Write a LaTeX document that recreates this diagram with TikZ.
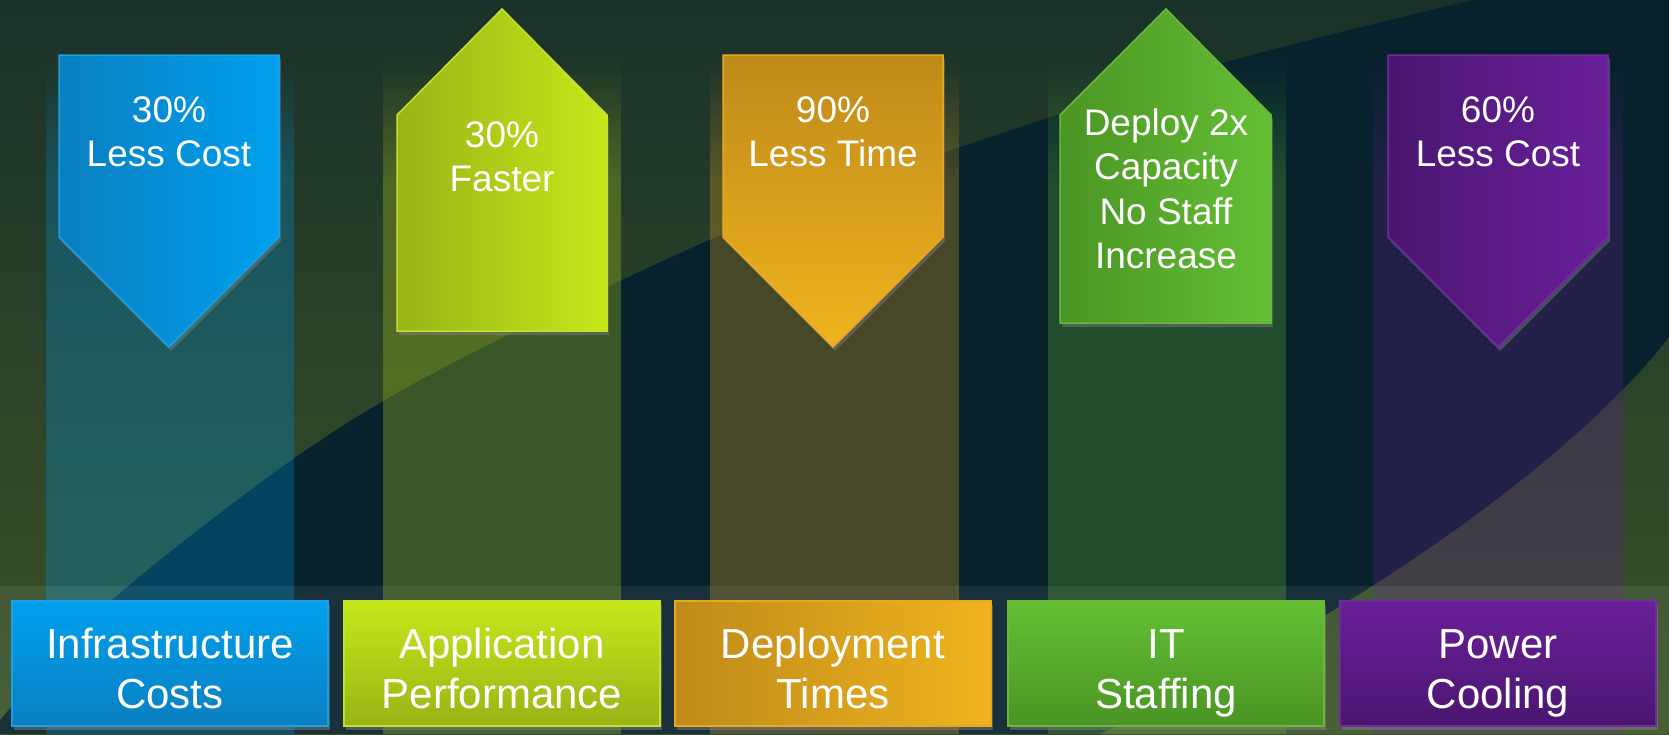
\documentclass[tikz,border=0pt]{standalone}
\usepackage{fontspec}
\setmainfont{Liberation Sans}
\usetikzlibrary{shadows,fadings}

\definecolor{bgtop}{HTML}{1A3129}
\definecolor{bgbot}{HTML}{3C5428}
\definecolor{bgteal}{HTML}{07222D}

\definecolor{cBlueL}{HTML}{0A7FC0}
\definecolor{cBlueR}{HTML}{00A0EE}
\definecolor{cBlueE}{HTML}{1AA0E4}
\definecolor{cLimeL}{HTML}{98B416}
\definecolor{cLimeR}{HTML}{C6E81A}
\definecolor{cLimeE}{HTML}{C4E02C}
\definecolor{cGoldL}{HTML}{BF8A1A}
\definecolor{cGoldR}{HTML}{F0B41E}
\definecolor{cGoldE}{HTML}{E8A820}
\definecolor{cGreenL}{HTML}{4A9424}
\definecolor{cGreenR}{HTML}{64C034}
\definecolor{cGreenE}{HTML}{6AB83A}
\definecolor{cPurpL}{HTML}{4A1670}
\definecolor{cPurpR}{HTML}{6A1F9A}
\definecolor{cPurpE}{HTML}{6E2C9C}

\definecolor{sBlue}{HTML}{0090D8}
\definecolor{sLime}{HTML}{B0D01A}
\definecolor{sGold}{HTML}{DCA01E}
\definecolor{sGreen}{HTML}{5AB02D}
\definecolor{sPurp}{HTML}{601E8C}

% zwei Zeilen, immer gleich hoch
\newcommand{\zweizeilen}[2]{\rule{0pt}{49pt}#1\\#2\vphantom{g}}

\tikzset{
	pfeil/.style={line width=1.5pt, drop shadow={opacity=.45, shadow xshift=2pt, shadow yshift=-4pt}},
	pfeiltext/.style={align=center, text=white, inner sep=0pt, font=\fontsize{37}{44.5}\selectfont},
	feld/.style={minimum width=316pt, minimum height=125pt, inner sep=0pt, line width=2pt,
		align=center, text=white, font=\fontsize{42}{50}\selectfont,
		drop shadow={opacity=.5, shadow xshift=2pt, shadow yshift=-4pt}},
	saeule/.style={opacity=.3},
}

\begin{document}
\begin{tikzpicture}[x=1pt, y=-1pt]
	\useasboundingbox (0,0) rectangle (1669,734);

	%% Hintergrund
	\shade[top color=bgtop, bottom color=bgbot] (0,0) rectangle (1669,734);
	\fill[bgteal] (0,734) -- plot[smooth] coordinates {(0,720) (112,600) (296,457) (445,367) (714,238) (946,152) (1223,63) (1473,0)}
		-- (1669,0) -- (1669,337) .. controls (1590,440) and (1390,600) .. (1100,734) -- cycle;

	%% Saeulen
	\fill[sBlue, saeule] (46,180) rectangle (294,734);
	\fill[sBlue, saeule, path fading=north] (46,60) rectangle (294,180);
	\fill[sLime, saeule] (383,180) rectangle (621,734);
	\fill[sLime, saeule, path fading=north] (383,60) rectangle (621,180);
	\fill[sGold, saeule] (710,180) rectangle (959,734);
	\fill[sGold, saeule, path fading=north] (710,60) rectangle (959,180);
	\fill[sGreen, saeule] (1048,180) rectangle (1286,734);
	\fill[sGreen, saeule, path fading=north] (1048,60) rectangle (1286,180);
	\fill[sPurp, saeule] (1373,180) rectangle (1623,734);
	\fill[sPurp, saeule, path fading=north] (1373,60) rectangle (1623,180);

	\fill[white, opacity=.07] (0,586) rectangle (1669,734);

	%%%%%%%%%%%%%%%%

	%% Pfeile
	\path[pfeil, draw=cBlueE, left color=cBlueL, right color=cBlueR]
		(59,55) -- (279,55) -- (279,237) -- (169,347) -- (59,237) -- cycle;
	\node[pfeiltext] (tInfra) at (169,132) {30\%\\Less Cost};

	\path[pfeil, draw=cLimeE, left color=cLimeL, right color=cLimeR]
		(502,9) -- (607,115) -- (607,331) -- (397,331) -- (397,115) -- cycle;
	\node[pfeiltext] (tAppl) at (502,157) {30\%\\Faster};

	\path[pfeil, draw=cGoldE, top color=cGoldL, bottom color=cGoldR]
		(723,55) -- (943,55) -- (943,237) -- (833,347) -- (723,237) -- cycle;
	\node[pfeiltext] (tDeploy) at (833,132) {90\%\\Less Time};

	\path[pfeil, draw=cGreenE, left color=cGreenL, right color=cGreenR]
		(1166,9) -- (1271,115) -- (1271,323) -- (1060,323) -- (1060,115) -- cycle;
	\node[pfeiltext] (tStaff) at (1166,189) {Deploy 2x\\Capacity\\No Staff\\Increase};

	\path[pfeil, draw=cPurpE, left color=cPurpL, right color=cPurpR]
		(1388,55) -- (1608,55) -- (1608,237) -- (1498,347) -- (1388,237) -- cycle;
	\node[pfeiltext] (tPower) at (1498,132) {60\%\\Less Cost};

	%%%%%%%%%%%%%%%%

	%% Felder unten
	\node[feld, draw=cBlueE, top color=cBlueR, bottom color=cBlueL] (infra) at (170,663) {\zweizeilen{Infrastructure}{Costs}};
	\node[feld, draw=cLimeE, top color=cLimeR, bottom color=cLimeL] (appl) at (502,663) {\zweizeilen{Application}{Performance}};
	\node[feld, draw=cGoldE, left color=cGoldL, right color=cGoldR] (deploy) at (833,663) {\zweizeilen{Deployment}{Times}};
	\node[feld, draw=cGreenE, top color=cGreenR, bottom color=cGreenL] (staff) at (1166,663) {\zweizeilen{IT}{Staffing}};
	\node[feld, draw=cPurpE, top color=cPurpR, bottom color=cPurpL] (power) at (1498,663) {\zweizeilen{Power}{Cooling}};

\end{tikzpicture}
\end{document}
